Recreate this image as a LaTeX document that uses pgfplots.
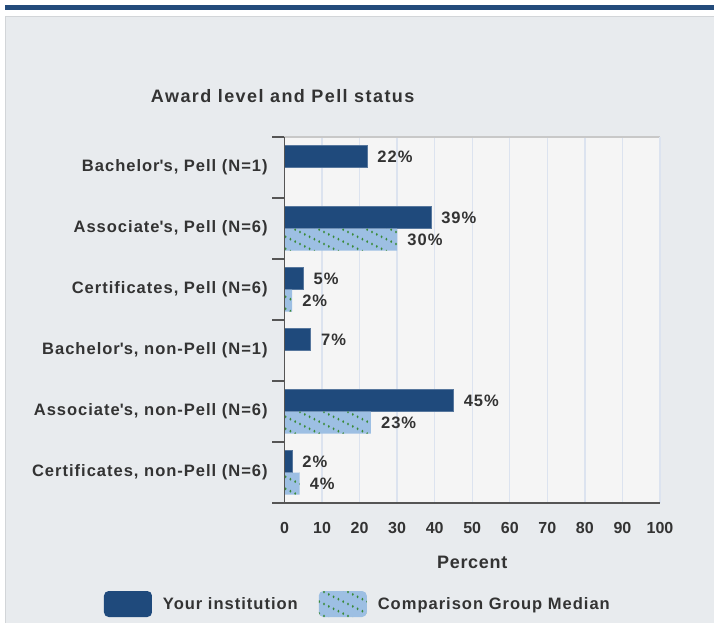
\documentclass[border=0pt]{standalone}
\usepackage{fontspec}
\setmainfont{Liberation Sans}
\usepackage{pgfplots}
\pgfplotsset{compat=1.18}
\usetikzlibrary{patterns}
\definecolor{darkbar}{HTML}{1F4A7C}
\definecolor{lightbar}{HTML}{9DBFE3}
\definecolor{dotgreen}{HTML}{3A8A38}
\definecolor{gridc}{HTML}{DCE3EF}
\definecolor{plotbg}{HTML}{F5F5F5}
\definecolor{panelbg}{HTML}{E8EBEE}
\definecolor{panelborder}{HTML}{D2D5D8}
\definecolor{topblue}{HTML}{234B7B}
\definecolor{textc}{HTML}{333333}
\definecolor{axisc}{HTML}{555555}
\definecolor{topline}{HTML}{C8C8C8}

\newfontfamily\lsA{Liberation Sans}[LetterSpace=6]
\newfontfamily\lsT{Liberation Sans}[LetterSpace=8]
\newfontfamily\lsP{Liberation Sans}[LetterSpace=4]
\newcommand\ylabfont{\lsA\bfseries\fontsize{12.4pt}{14pt}\selectfont}
\newcommand\titlefont{\lsT\bfseries\fontsize{13.5pt}{15pt}\selectfont}
\newcommand\xlabfont{\lsP\bfseries\fontsize{13.5pt}{15pt}\selectfont}
\newcommand\tickfont{\bfseries\fontsize{12pt}{14pt}\selectfont}
\newcommand\legfont{\lsA\bfseries\fontsize{12.4pt}{14pt}\selectfont}

% dotted diagonal hatching: lines of slope -1/2, ~24px apart horizontally
\pgfdeclarepatternformonly{dotdiag}{\pgfqpoint{-1pt}{-1pt}}{\pgfqpoint{19pt}{10pt}}{\pgfqpoint{18pt}{9pt}}{%
  \pgfpathellipse{\pgfqpoint{1.8pt}{8.1pt}}{\pgfqpoint{0.75pt}{0pt}}{\pgfqpoint{0pt}{1.1pt}}%
  \pgfpathellipse{\pgfqpoint{5.4pt}{6.3pt}}{\pgfqpoint{0.75pt}{0pt}}{\pgfqpoint{0pt}{1.1pt}}%
  \pgfpathellipse{\pgfqpoint{9.0pt}{4.5pt}}{\pgfqpoint{0.75pt}{0pt}}{\pgfqpoint{0pt}{1.1pt}}%
  \pgfpathellipse{\pgfqpoint{12.6pt}{2.7pt}}{\pgfqpoint{0.75pt}{0pt}}{\pgfqpoint{0pt}{1.1pt}}%
  \pgfpathellipse{\pgfqpoint{16.2pt}{0.9pt}}{\pgfqpoint{0.75pt}{0pt}}{\pgfqpoint{0pt}{1.1pt}}%
  \pgfusepath{fill}}

\pgfplotsset{
  mylegend/.style={legend image code/.code={\path[##1, draw=none, rounded corners=3.5pt] (0pt,-9.75pt) rectangle (36pt,9.75pt);}},
}

\begin{document}
\begin{tikzpicture}
% page = 714 x 622 px, 1px = 0.75pt, origin at plot's lower-left corner (px 284.5, 503)
\path[use as bounding box] (-213.375pt,377.25pt) rectangle (322.125pt,-89.25pt);
\begin{scope}[shift={(-213.375pt,377.25pt)}, x=0.75pt, y=-0.75pt]
  \fill[white] (0,0) rectangle (714,622);
  \fill[topblue] (5,4.7) rectangle (714,9.7);
  \filldraw[fill=panelbg, draw=panelborder, line width=0.8pt] (5.5,16.5) rectangle (730,640);
  \node[font=\titlefont, text=textc, anchor=west, inner sep=0pt] at (150.7,96.5) {Award level and Pell status};
\end{scope}

\begin{axis}[
  at={(0pt,0pt)}, anchor=south west,
  scale only axis, width=281.625pt, height=274.5pt,
  xmin=0, xmax=100, ymin=0.5, ymax=6.5,
  axis x line*=bottom, axis y line*=left,
  xbar, bar width=16.5pt,
  axis background/.style={fill=plotbg, draw=none},
  axis line style={draw=none},
  xtick={0,10,...,100},
  ytick={1,...,6},
  yticklabels={{Certificates, non-Pell (N=6)},{Associate\textquotesingle s, non-Pell (N=6)},{Bachelor\textquotesingle s, non-Pell (N=1)},{Certificates, Pell (N=6)},{Associate\textquotesingle s, Pell (N=6)},{Bachelor\textquotesingle s, Pell (N=1)}},
  minor ytick={0.5,1.5,...,6.5},
  major tick length=0pt, minor tick length=9pt,
  tick align=outside,
  minor tick style={color=axisc, line width=1.1pt},
  xmajorgrids, grid style={color=gridc, line width=1pt},
  /pgf/number format/assume math mode=true,
  xticklabel style={font=\tickfont, text=textc, inner sep=0pt, anchor=north, yshift=-14pt},
  yticklabel style={font=\ylabfont, text=textc, inner sep=0pt, anchor=east, xshift=-12.4pt},
  xlabel={Percent},
  xlabel style={font=\xlabfont, text=textc, at={(axis description cs:0.5,0)}, anchor=center, inner sep=0pt, yshift=-44.25pt},
  legend style={at={(-0.4807,-0.276)}, anchor=west, draw=none, fill=none, inner sep=0pt, outer sep=0pt,
    font=\legfont, text=textc, legend columns=2,
    nodes={inner sep=0pt},
    /tikz/every odd column/.append style={column sep=8.25pt},
    /tikz/every even column/.append style={column sep=15.75pt}},
  legend cell align=left,
  point meta=x,
  nodes near coords={\pgfmathprintnumber{\pgfplotspointmeta}\%},
  nodes near coords style={font=\ylabfont, text=textc, anchor=west, inner sep=0pt, xshift=7.5pt},
  clip=false,
]
\addplot[fill=darkbar, draw=darkbar!75!white, line width=0.5pt, bar shift=8.25pt, mylegend]
  coordinates {(2,1) (45,2) (7,3) (5,4) (39,5) (22,6)};
\addlegendentry{Your institution}
\addplot[fill=lightbar, draw=none, bar shift=-8.25pt, postaction={pattern=dotdiag, pattern color=dotgreen}, mylegend]
  coordinates {(4,1) (23,2) (2,4) (30,5)};
\addlegendentry{Comparison Group Median}
\draw[topline, line width=1pt] (rel axis cs:0,1) -- (rel axis cs:1,1);
\draw[gridc, line width=2pt] (rel axis cs:1,1) -- (rel axis cs:1,0);
\draw[axisc, line width=1.2pt] (rel axis cs:0,1) -- (rel axis cs:0,0) -- (rel axis cs:1,0);
\end{axis}
\end{tikzpicture}
\end{document}
